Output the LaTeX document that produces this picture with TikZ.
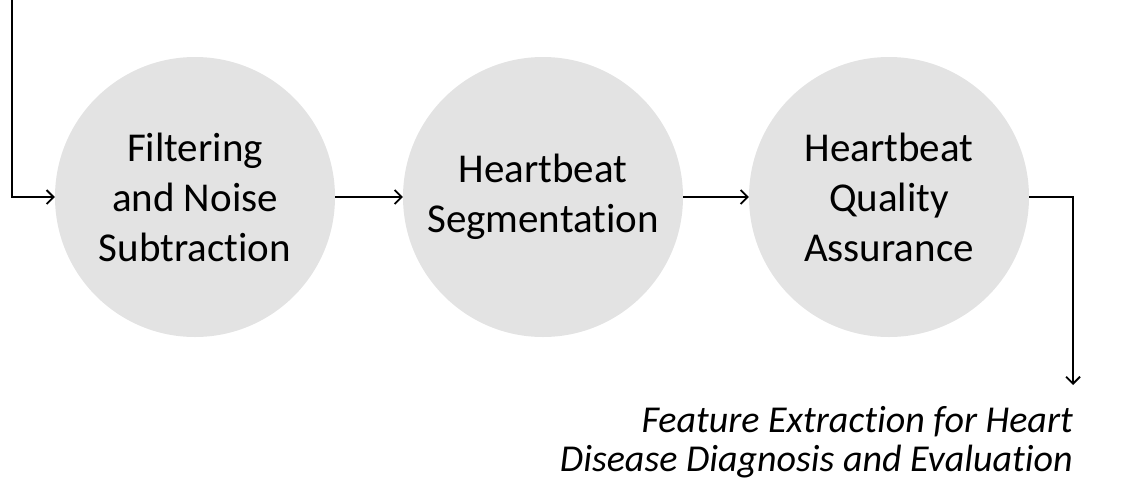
\documentclass[tikz,border=0pt]{standalone}
\usepackage{fontspec}
\setmainfont[Ligatures=NoCommon]{Carlito}
\usetikzlibrary{arrows.meta}

\definecolor{stagefill}{RGB}{227,227,227}

\tikzset{
  stage/.style={circle, fill=stagefill, draw=none, minimum size=280pt, inner sep=0pt,
    align=center, font=\fontsize{41}{50}\selectfont},
  flow/.style={line width=1.8pt, -{Straight Barb[length=7pt,width=14pt,line width=1.8pt]}}
}

\begin{document}
\begin{tikzpicture}[x=1pt,y=-1pt]
  \useasboundingbox (0,0) rectangle (1129,496);

  % processing stages
  \node[stage] (filt) at (195,197) {Filtering\\and Noise\\Subtraction};
  \node[stage] (seg)  at (543,197) {Heartbeat\\Segmentation};
  \node[stage] (qa)   at (889,197) {Heartbeat\\Quality\\Assurance};

  % output description
  \node[anchor=north east, inner sep=0pt, align=right,
        font=\fontsize{38}{39}\selectfont\itshape] (feat) at (1073,406)
        {Feature Extraction for Heart\\Disease Diagnosis and Evaluation};

  % free ends of the input and output lines
  \coordinate (src) at (12,0);
  \coordinate (dst) at (1073,385);

  % connectors
  \draw[flow] (src) |- (filt.west);
  \draw[flow] (filt.east) -- (seg.west);
  \draw[flow] (seg.east) -- (qa.west);
  \draw[flow] (qa.east) -| (dst);
\end{tikzpicture}
\end{document}
